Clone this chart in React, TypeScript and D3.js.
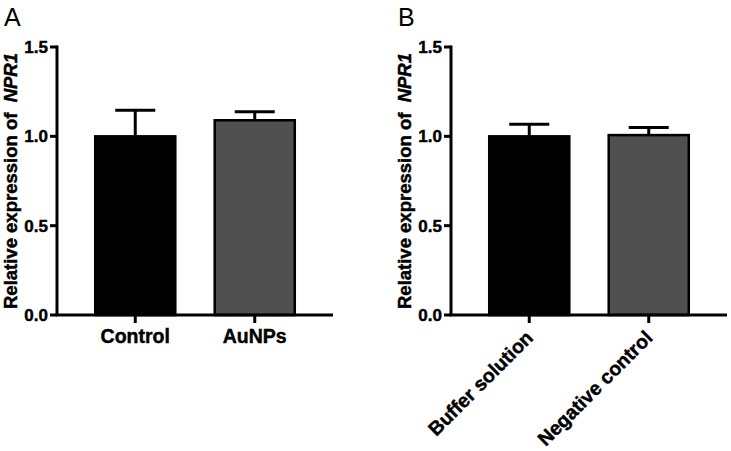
import React from "react";
import * as d3 from "d3";

const panelLetters = ["A", "B"];
const categoriesA = ["Control", "AuNPs"];
const meansA = [1.0, 1.09];
const errTopsA = [1.146, 1.138];
const categoriesB = ["Buffer solution", "Negative control"];
const meansB = [1.0, 1.007];
const errTopsB = [1.067, 1.049];
const barColors = ["#000000", "#505050"];
const yTicks = [0, 0.5, 1.0, 1.5];

const FONT = "'Liberation Sans', Arial, Helvetica, sans-serif";

type PanelProps = {
  letter: string;
  offsetX: number;
  categories: string[];
  means: number[];
  errTops: number[];
  rotated: boolean;
};

const heavy = { stroke: "#000", strokeWidth: 0.45 };

function Panel({ letter, offsetX, categories, means, errTops, rotated }: PanelProps) {
  const x0 = 57;
  const x1 = 333;
  const y = d3.scaleLinear().domain([0, 1.5]).range([315, 47]);
  const x = d3
    .scaleBand<string>()
    .domain(categories)
    .range([x0, x1])
    .paddingInner(0.33)
    .paddingOuter(0.32)
    .align(0.5);
  const bw = x.bandwidth();
  const capW = 40;
  const fmt = d3.format(".1f");
  return (
    <g transform={`translate(${offsetX},0)`} fontFamily={FONT}>
      <text x={4} y={26} fontSize={25} fill="#000">
        {letter}
      </text>
      {/* y label */}
      <text
        transform={`translate(17,${(y(0) + y(1.5)) / 2}) rotate(-90)`}
        textAnchor="middle"
        fontSize={18.5}
        fontWeight="bold"
        fill="#000"
        {...heavy}
      >
        Relative expression of{"\u00a0 "}
        <tspan fontStyle="italic">NPR1</tspan>
      </text>
      {/* bars */}
      {categories.map((c, i) => {
        const cx = (x(c) as number) + bw / 2;
        return (
          <g key={c}>
            <line
              x1={cx}
              x2={cx}
              y1={y(means[i])}
              y2={y(errTops[i])}
              stroke="#000"
              strokeWidth={3}
            />
            <line
              x1={cx - capW / 2}
              x2={cx + capW / 2}
              y1={y(errTops[i])}
              y2={y(errTops[i])}
              stroke="#000"
              strokeWidth={3}
            />
            <rect
              x={x(c) as number}
              y={y(means[i])}
              width={bw}
              height={y(0) - y(means[i])}
              fill={barColors[i]}
              stroke="#000"
              strokeWidth={2.5}
            />
          </g>
        );
      })}
      {/* y axis */}
      <line x1={x0} x2={x0} y1={y(1.5) - 1.5} y2={y(0)} stroke="#000" strokeWidth={3} />
      {yTicks.map((t) => (
        <g key={t}>
          <line x1={x0 - 7} x2={x0} y1={y(t)} y2={y(t)} stroke="#000" strokeWidth={3} />
          <text
            x={x0 - 9}
            y={y(t)}
            dy="0.36em"
            textAnchor="end"
            fontSize={17}
            fontWeight="bold"
            fill="#000"
            {...heavy}
          >
            {fmt(t)}
          </text>
        </g>
      ))}
      {/* x axis */}
      <line x1={x0 - 1.5} x2={x1} y1={y(0)} y2={y(0)} stroke="#000" strokeWidth={3} />
      {categories.map((c) => {
        const cx = (x(c) as number) + bw / 2;
        return (
          <g key={c + "t"}>
            <line x1={cx} x2={cx} y1={y(0)} y2={y(0) + 8} stroke="#000" strokeWidth={3} />
            {rotated ? (
              <text
                transform={`translate(${cx + 5},${y(0) + 24}) rotate(-45)`}
                textAnchor="end"
                fontSize={19.5}
                fontWeight="bold"
                fill="#000"
                {...heavy}
              >
                {c}
              </text>
            ) : (
              <text
                x={cx}
                y={y(0) + 28}
                textAnchor="middle"
                fontSize={19.5}
                fontWeight="bold"
                fill="#000"
                {...heavy}
              >
                {c}
              </text>
            )}
          </g>
        );
      })}
    </g>
  );
}

export default function App() {
  return (
    <svg
      width={731}
      height={451}
      style={{ position: "absolute", left: 0, top: 0, background: "#fff" }}
    >
      <rect width={731} height={451} fill="#fff" />
      <Panel
        letter={panelLetters[0]}
        offsetX={0}
        categories={categoriesA}
        means={meansA}
        errTops={errTopsA}
        rotated={false}
      />
      <Panel
        letter={panelLetters[1]}
        offsetX={394}
        categories={categoriesB}
        means={meansB}
        errTops={errTopsB}
        rotated={true}
      />
    </svg>
  );
}
